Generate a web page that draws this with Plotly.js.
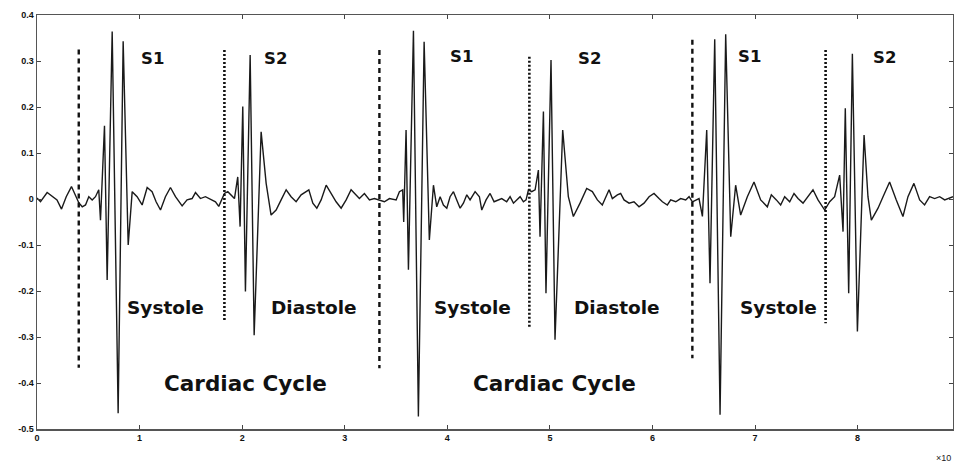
<!DOCTYPE html>
<html>
<head>
<meta charset="utf-8">
<script src="https://cdn.plot.ly/plotly-3.0.1.min.js"></script>
<style>html,body{margin:0;padding:0;background:#fff;}#chart{width:954px;height:464px;}</style>
</head>
<body>
<div id="chart"></div>
<script>
// PCG signal (x in units of 10^4 samples)
const sigX = [0.00,0.034,0.099,0.148,0.195,0.239,0.285,0.336,0.375,0.407,0.441,0.473,0.505,0.538,0.570,0.602,
0.619,0.658,0.684,0.733,0.791,0.840,0.889,0.928,
0.976,1.025,1.074,1.122,1.161,1.204,1.252,1.301,1.350,1.415,1.463,1.512,1.545,1.593,1.642,1.691,1.740,1.772,1.798,
1.827,1.860,1.892,1.925,1.957,1.980,2.006,2.032,2.078,2.117,2.185,2.234,2.282,2.331,2.380,2.429,2.477,2.526,2.575,
2.617,2.650,2.689,2.728,2.770,2.819,2.867,2.916,2.965,3.014,3.062,3.111,3.143,3.192,3.241,3.289,3.338,3.387,3.436,
3.501,3.533,3.565,
3.575,3.598,3.621,3.670,3.718,3.774,3.825,3.865,3.897,
3.930,3.962,3.995,4.027,4.060,4.092,4.125,4.157,4.190,4.222,4.271,4.313,4.336,4.378,4.417,4.456,4.499,4.531,4.579,
4.612,4.645,4.677,4.710,4.742,4.768,4.791,4.823,4.856,
4.888,4.904,4.937,4.962,5.011,5.050,5.125,5.180,5.229,5.294,5.359,
5.414,5.463,5.511,5.544,5.577,5.609,5.658,5.690,5.723,5.772,5.820,5.869,5.918,5.967,6.015,6.064,6.097,6.145,6.178,
6.227,6.275,6.324,6.357,6.389,6.454,
6.487,6.529,6.561,6.607,6.659,6.714,6.763,6.811,6.860,6.925,6.990,7.055,7.120,7.159,
7.208,7.250,7.289,7.338,7.380,7.419,7.468,7.516,7.565,7.614,7.679,7.728,7.776,
7.825,7.858,7.880,7.913,7.949,7.998,8.063,8.101,8.134,8.199,8.248,8.312,8.377,8.442,8.491,8.549,8.605,8.653,8.702,
8.751,8.800,8.849,8.930];
const sigY = [0.002,-0.006,0.014,0.005,-0.002,-0.022,0.005,0.027,0.009,-0.008,-0.017,-0.013,0.005,-0.002,0.005,0.020,
-0.046,0.159,-0.176,0.364,-0.466,0.343,-0.100,0.016,
0.005,-0.013,0.025,0.016,-0.006,-0.024,0.005,0.025,0.005,-0.015,-0.002,0.001,0.014,0.001,0.005,-0.001,-0.006,-0.016,-0.002,
0.012,0.016,0.009,0.001,0.048,-0.060,0.201,-0.201,0.313,-0.296,0.146,0.034,-0.035,-0.024,-0.002,0.020,0.005,-0.006,0.009,
0.016,0.020,-0.009,-0.020,-0.002,0.030,0.012,-0.006,-0.020,-0.002,0.020,0.009,0.001,0.012,-0.002,0.001,-0.002,-0.006,0.001,
-0.002,0.016,0.020,
-0.050,0.150,-0.154,0.366,-0.473,0.342,-0.089,0.030,-0.017,
0.005,-0.013,-0.020,0.005,0.016,-0.002,-0.020,-0.009,0.009,-0.002,0.016,0.005,-0.024,-0.002,0.012,-0.006,-0.002,0.001,-0.006,
0.005,-0.009,-0.002,0.005,-0.006,-0.002,0.020,0.016,0.020,
0.063,-0.082,0.190,-0.205,0.302,-0.306,0.150,0.005,-0.038,-0.009,0.023,
0.016,-0.002,-0.013,0.005,0.020,0.001,0.009,0.012,-0.002,-0.009,-0.006,-0.017,-0.009,0.005,0.012,0.001,-0.006,-0.013,-0.002,
-0.006,0.001,-0.002,0.005,-0.006,0.001,
-0.038,0.150,-0.183,0.347,-0.469,0.358,-0.082,0.030,-0.035,0.005,0.037,-0.002,-0.017,0.009,
-0.002,-0.013,0.005,-0.006,0.012,0.001,-0.009,0.005,0.020,-0.002,-0.024,-0.006,0.005,
0.052,-0.071,0.197,-0.205,0.316,-0.288,0.139,0.005,-0.046,-0.020,0.005,0.037,-0.002,-0.038,0.005,0.034,-0.002,-0.013,0.005,
0.001,0.005,-0.002,0.005];

// Phase boundary markers
const markX = [0.407, 1.827, 3.338, 4.800, 6.389, 7.688];
const markTop = [0.325, 0.324, 0.324, 0.309, 0.346, 0.324];
const markBottom = [-0.367, -0.267, -0.368, -0.278, -0.346, -0.270];
const markKind = ["dash", "dot", "dash", "dot", "dash", "dot"];

// Labels
const soundLabels = ["S1", "S2", "S1", "S2", "S1", "S2"];
const soundX = [1.126, 2.329, 4.137, 5.385, 6.944, 8.265];
const soundY = [0.305, 0.305, 0.310, 0.305, 0.310, 0.308];
const phaseLabels = ["Systole", "Diastole", "Systole", "Diastole", "Systole"];
const phaseX = [1.252, 2.705, 4.245, 5.658, 7.227];
const phaseY = [-0.236, -0.236, -0.236, -0.236, -0.236];
const cycleLabels = ["Cardiac Cycle", "Cardiac Cycle"];
const cycleX = [2.032, 5.044];
const cycleY = [-0.402, -0.402];

const xTicks = [0, 1, 2, 3, 4, 5, 6, 7, 8];
const yTicks = [0.4, 0.3, 0.2, 0.1, 0, -0.1, -0.2, -0.3, -0.4, -0.5];

const traces = [{
  x: sigX, y: sigY, type: "scatter", mode: "lines",
  line: {color: "#1a1a1a", width: 1.4}, hoverinfo: "skip", showlegend: false
}];
markX.forEach((mx, i) => {
  traces.push({
    x: [mx, mx], y: [markTop[i], markBottom[i]], type: "scatter", mode: "lines",
    line: {color: "#111", width: markKind[i] === "dash" ? 2.4 : 2.6,
           dash: markKind[i] === "dash" ? "5px,4px" : "2px,2px"},
    hoverinfo: "skip", showlegend: false
  });
});

const labelFont = {family: "DejaVu Sans, sans-serif", color: "#111", weight: 700};
const annotations = [];
soundLabels.forEach((t, i) => annotations.push({x: soundX[i], y: soundY[i], text: t, showarrow: false,
  font: Object.assign({size: 16.5}, labelFont)}));
phaseLabels.forEach((t, i) => annotations.push({x: phaseX[i], y: phaseY[i], text: t, showarrow: false,
  font: Object.assign({size: 18.5}, labelFont)}));
cycleLabels.forEach((t, i) => annotations.push({x: cycleX[i], y: cycleY[i], text: t, showarrow: false,
  font: Object.assign({size: 21.5}, labelFont)}));
annotations.push({xref: "paper", yref: "paper", x: 0.979, y: -0.07, xanchor: "left", yanchor: "middle",
  text: "×10", showarrow: false, font: {family: "Liberation Sans, Arial, sans-serif", size: 9, color: "#222"}});

const axisCommon = {
  showline: true, mirror: "ticks", linecolor: "#555", linewidth: 1.5,
  ticks: "inside", ticklen: 4, tickwidth: 1, tickcolor: "#444",
  showgrid: false, zeroline: false,
  tickfont: {family: "Liberation Sans, Arial, sans-serif", size: 9, color: "#111", weight: 700}
};

const layout = {
  width: 954, height: 464,
  margin: {l: 37, r: 1, t: 15, b: 35},
  paper_bgcolor: "#fff", plot_bgcolor: "#fff",
  showlegend: false,
  xaxis: Object.assign({}, axisCommon, {range: [0, 8.93], tickvals: xTicks, ticktext: xTicks.map(String)}),
  yaxis: Object.assign({}, axisCommon, {range: [-0.5, 0.4], tickvals: yTicks, ticktext: yTicks.map(String)}),
  annotations: annotations
};

Plotly.newPlot("chart", traces, layout, {staticPlot: true, displayModeBar: false});
</script>
</body>
</html>
